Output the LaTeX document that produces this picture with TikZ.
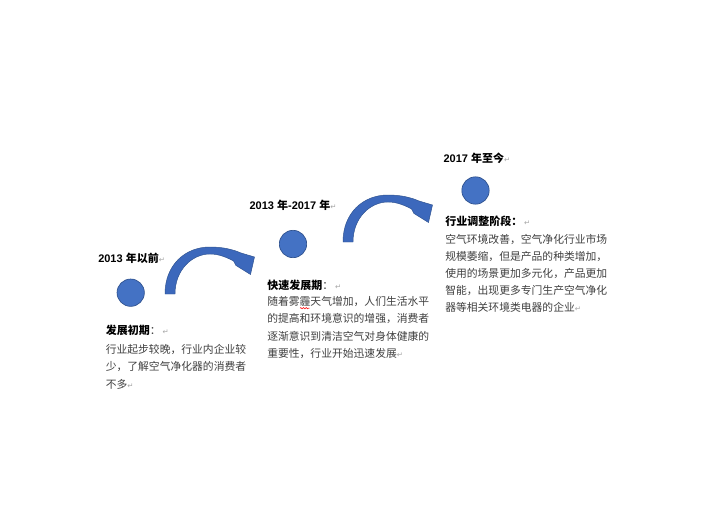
\documentclass[tikz,border=0pt]{standalone}
\usepackage{fontspec}
\setmainfont{Liberation Sans}
\newfontfamily\cjk{Noto Sans CJK SC}
\newfontfamily\djv{DejaVu Sans}
\usetikzlibrary{decorations.pathmorphing}
\definecolor{bluefill}{HTML}{4472C4}
\definecolor{blueedge}{HTML}{2F528F}
\definecolor{arrowfill}{HTML}{3C68BC}
\definecolor{bodygray}{HTML}{404040}
\definecolor{retgray}{HTML}{A6A6A6}
\newcommand{\retmark}{{\color{retgray}\mdseries\djv\fontsize{5.5}{6}\selectfont ↵}}
\begin{document}
\begin{tikzpicture}[x=0.75pt,y=-0.75pt,
  headtxt/.style={font=\fontsize{8.25}{10}\selectfont\bfseries, text=black, inner sep=0pt, anchor=base west},
  bodytxt/.style={font=\fontsize{8.1}{10}\selectfont\cjk, text=bodygray, inner sep=0pt, anchor=base west},
  dot/.style={circle, fill=bluefill, draw=blueedge, line width=0.5pt, minimum size=20.5pt, inner sep=0pt},
  curvearrow/.pic={
    \filldraw[fill=arrowfill, draw=blueedge, line width=0.35pt, line join=miter]
      (0,0) .. controls (0,-29) and (20,-47) .. (45,-47)
      .. controls (58,-47) and (68,-44.5) .. (76,-41)
      -- (89.5,-37) -- (85.5,-19.5) -- (71,-28.5) -- (68.5,-33)
      .. controls (62,-36.5) and (54,-40) .. (45,-40)
      .. controls (27,-40) and (10,-24) .. (10,0) -- cycle;
  }
]
\fill[white] (0,0) rectangle (704,528);
\useasboundingbox (0,0) rectangle (704,528);

% arrows
\pic at (165,294) {curvearrow};
\pic at (343,242) {curvearrow};

% circles
\node[dot] (c1) at (130.7,292.7) {};
\node[dot] (c2) at (293,244) {};
\node[dot] (c3) at (475.5,190.5) {};

% headings
\node[headtxt] (h1) at (98,262.5) {2013 {\cjk 年以前}\retmark};
\node[headtxt] (h2) at (249.3,209.2) {2013 {\cjk 年}-2017 {\cjk 年}\retmark};
\node[headtxt] (h3) at (443.3,162.5) {2017 {\cjk 年至今}\retmark};

% block 1
\node[headtxt] (l1) at (105.5,334.9) {\cjk 发展初期{\mdseries\color{bodygray}：}\,\retmark};
\foreach \t [count=\i] in {{行业起步较晚，行业内企业较},{少，了解空气净化器的消费者},{不多\retmark}}
  \node[bodytxt] (b1l\i) at (105.5,{353.4+17.3*(\i-1)}) {\t};

% block 2
\node[headtxt] (l2) at (267,289.2) {\cjk 快速发展期{\mdseries\color{bodygray}：}\,\retmark};
\foreach \t [count=\i] in {{随着雾霾天气增加，人们生活水平},{的提高和环境意识的增强，消费者},{逐渐意识到清洁空气对身体健康的},{重要性，行业开始迅速发展\retmark}}
  \node[bodytxt] (b2l\i) at (267,{305.8+17.1*(\i-1)}) {\t};
\draw[red, line width=0.4pt, decorate, decoration={snake, amplitude=0.5pt, segment length=2pt}] (300,308.2) -- (309.5,308.2);

% block 3
\node[headtxt] (l3) at (445,225.9) {\cjk 行业调整阶段：\,\retmark};
\foreach \t [count=\i] in {{空气环境改善，空气净化行业市场},{规模萎缩，但是产品的种类增加，},{使用的场景更加多元化，产品更加},{智能，出现更多专门生产空气净化},{器等相关环境类电器的企业\retmark}}
  \node[bodytxt] (b3l\i) at (445,{243.4+17.1*(\i-1)}) {\t};
\end{tikzpicture}
\end{document}
